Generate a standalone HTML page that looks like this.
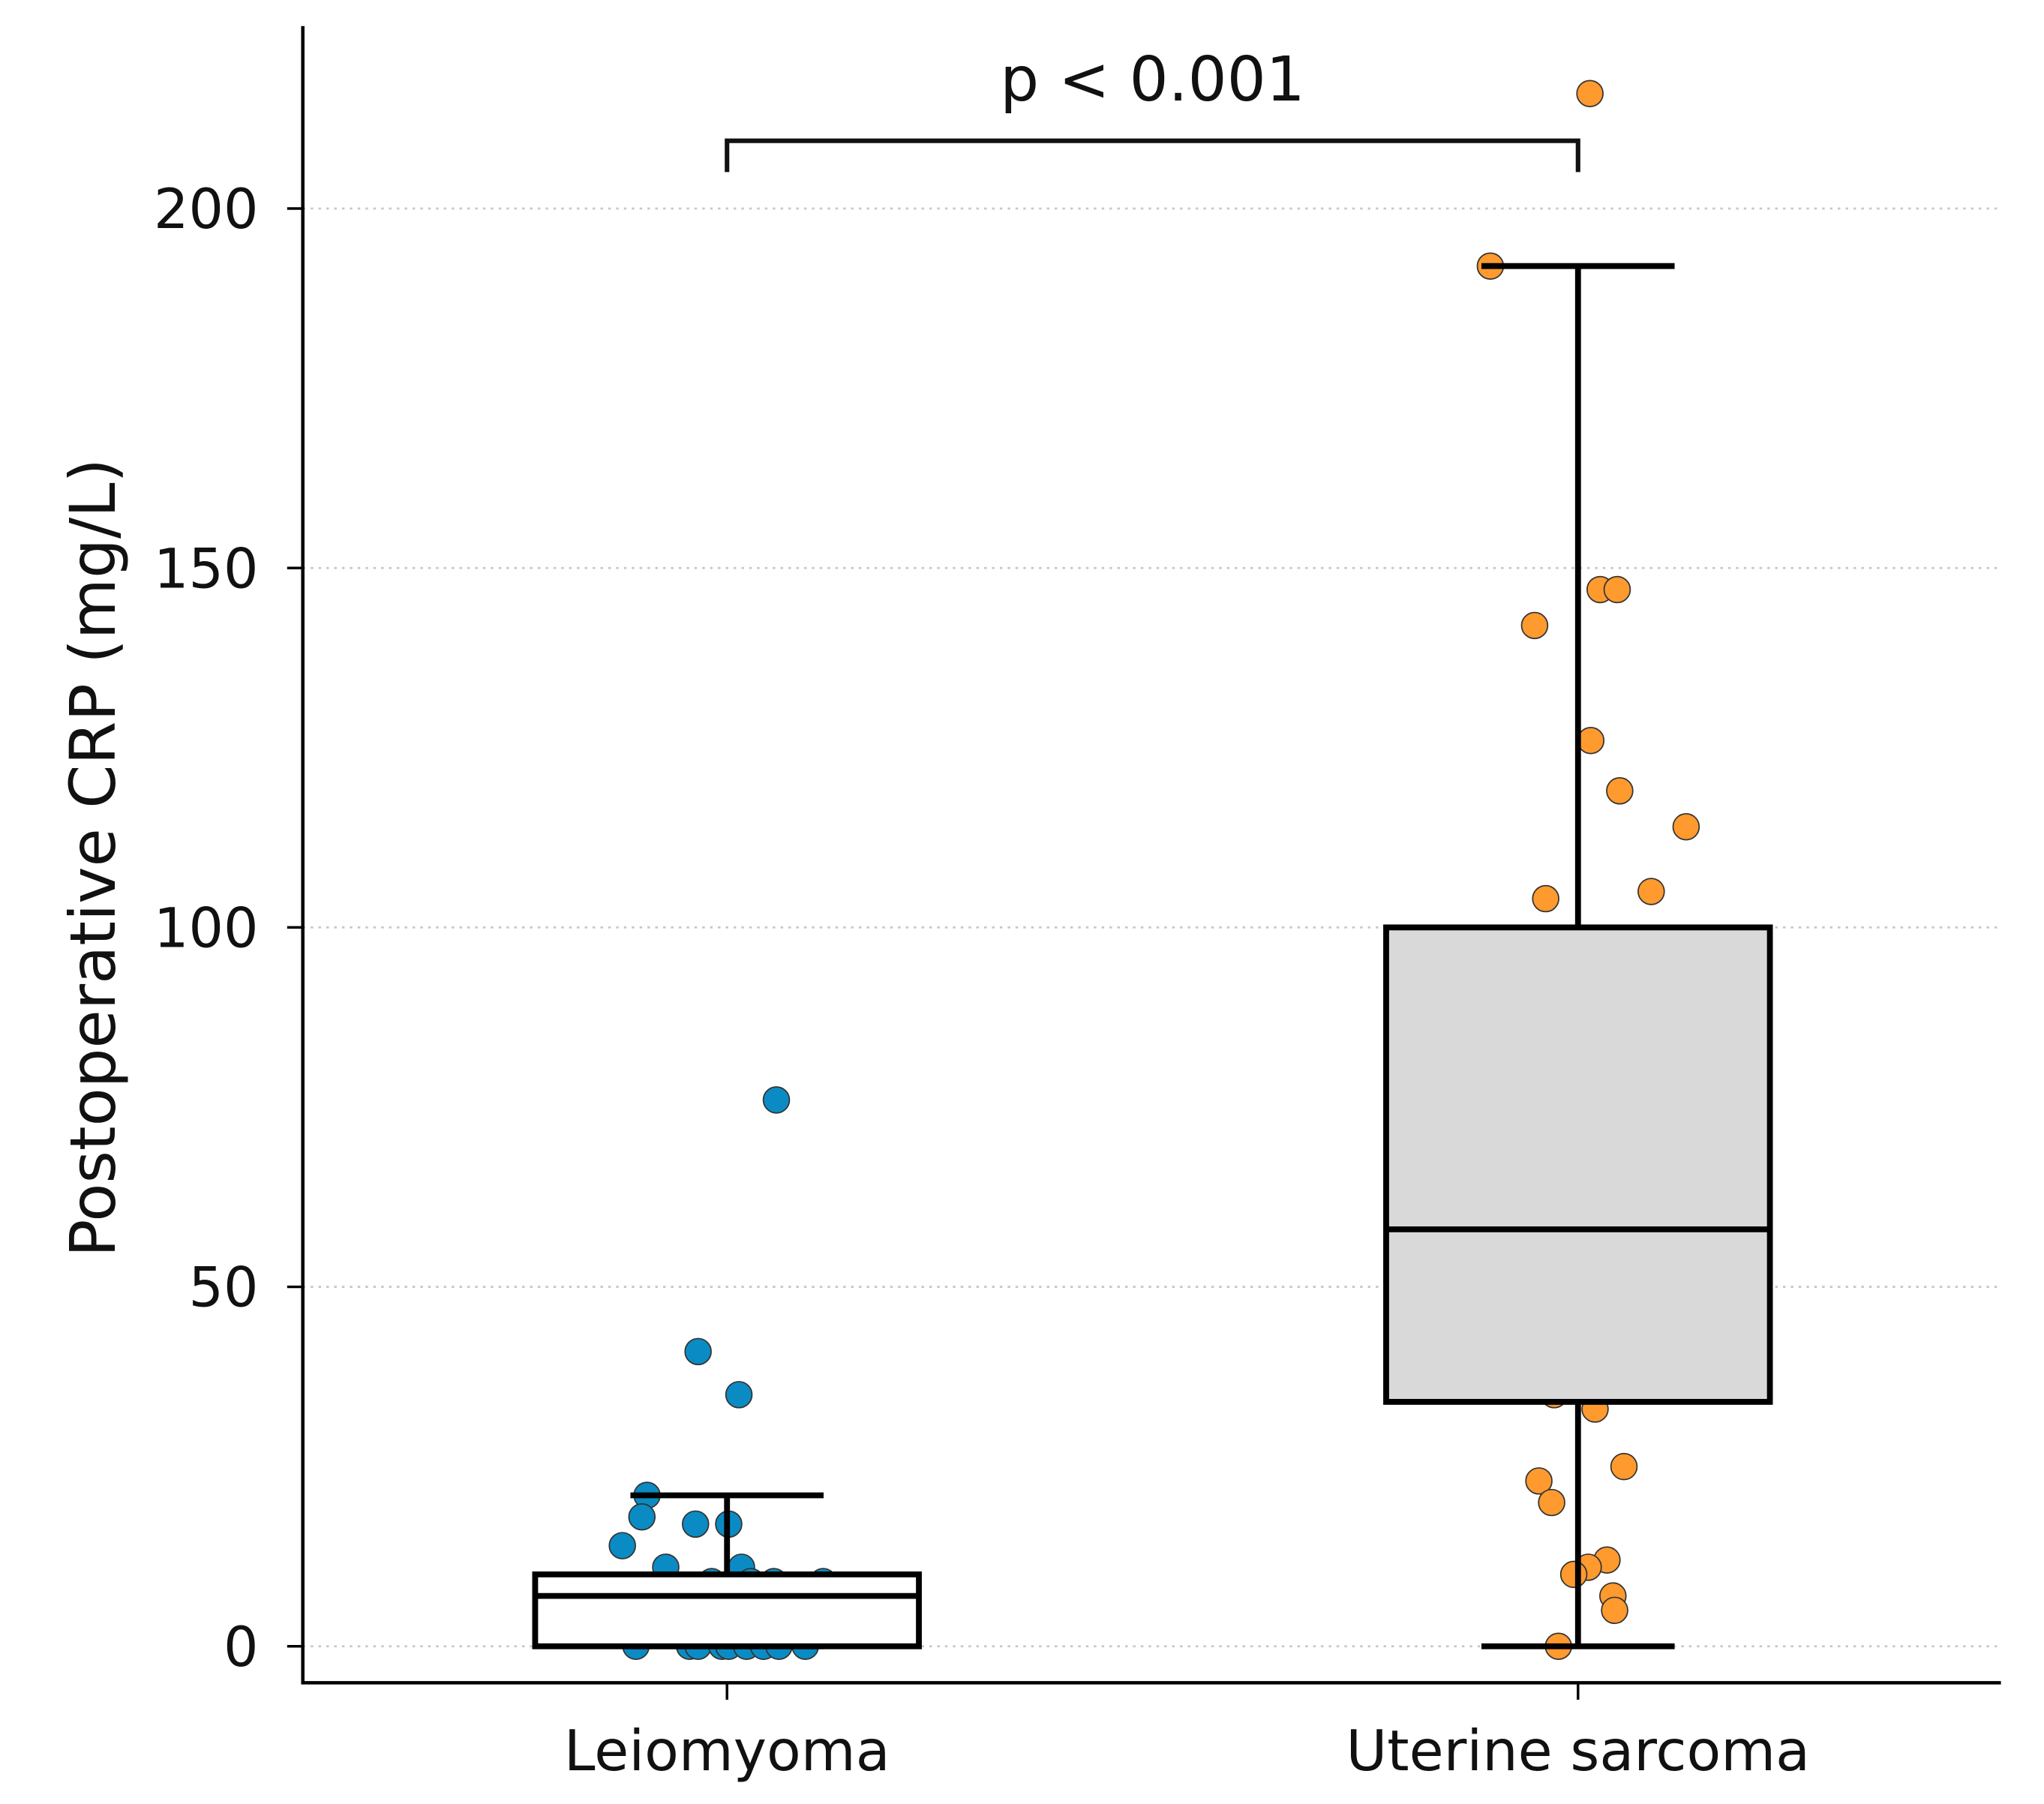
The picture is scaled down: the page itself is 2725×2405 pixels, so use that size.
<!DOCTYPE html>
<html><head><meta charset="utf-8"><style>html,body{margin:0;padding:0;background:#fff}svg{display:block}</style></head>
<body>
<svg id="chart" width="2725" height="2405" viewBox="0 0 1566 1384" preserveAspectRatio="none" xmlns="http://www.w3.org/2000/svg" font-family="'DejaVu Sans','Liberation Sans',sans-serif">
<g id="grid"></g><g id="pts"></g><g id="boxes"></g><g id="axes"></g>
</svg>
<script>
const categories = ["Leiomyoma", "Uterine sarcoma"];
const yTicks = [0, 50, 100, 150, 200];
const boxQ1 = [0, 34];
const boxMedian = [7, 58];
const boxQ3 = [10, 100];
const whiskerLow = [0, 0];
const whiskerHigh = [21, 192];
const leioValues = [76,41,35,21,18,17,17,14,11,11,9,9,9,9,0,0,0,0,0,0,0,0,0];
const leioJitter = [0.058,-0.034,0.014,-0.094,-0.100,-0.037,0.002,-0.123,-0.072,0.017,-0.018,0.055,0.113,0.028,-0.107,-0.044,-0.034,-0.006,0.002,0.023,0.043,0.061,0.092];
const sarcValues = [216,192,147,147,142,126,119,114,105,104,35,33,25,23,20,12,11,10,7,5,0];
const sarcJitter = [0.014,-0.103,0.026,0.046,-0.051,0.015,0.049,0.127,0.086,-0.038,-0.028,0.020,0.054,-0.046,-0.031,0.034,0.012,-0.005,0.041,0.043,-0.023];
const pLabel = "p < 0.001";

const NS="http://www.w3.org/2000/svg";
const L=232,R=1533,B=1291,T=20;
const catX=[557,1209], band=652;
const y=v=>1263-v*5.515;
const x=(i,off)=>catX[i]+(off||0)*band;
function mk(parent,tag,attrs){const e=document.createElementNS(NS,tag);for(const k in attrs)e.setAttribute(k,attrs[k]);document.getElementById(parent).appendChild(e);return e;}

yTicks.forEach(t=>{
  const g=mk('grid','line',{x1:L,x2:R,y1:y(t),y2:y(t),stroke:'#c8c8c8','stroke-width':1.6,'stroke-dasharray':'2,4'});
  
  
  const tk=mk('axes','line',{x1:L-12,x2:L,y1:y(t),y2:y(t),stroke:'#000','stroke-width':2});
  
  
  const tx=mk('axes','text',{x:L-34,y:y(t)+15,'text-anchor':'end','font-size':42,fill:'#111'});
  tx.textContent=t;
  
  
});

function pts(vals,jit,i,col,name){
  vals.forEach((v,k)=>{
    const c=mk('pts','circle',{cx:x(i,jit[k]),cy:y(v),r:10,fill:col,stroke:'#333','stroke-width':1});
    
    
  });
}
pts(leioValues,leioJitter,0,'#0b8bc3','leiomyoma');
pts(sarcValues,sarcJitter,1,'#ff9a2e','sarcoma');

const fills=['#ffffff','#d9d9d9'];
categories.forEach((c,i)=>{
  const cx=x(i),hw=147,cw=74,sw=4.5;
  const w1=mk('boxes','line',{x1:cx,x2:cx,y1:y(boxQ3[i]),y2:y(whiskerHigh[i]),stroke:'#000','stroke-width':sw});
  
  
  const w2=mk('boxes','line',{x1:cx,x2:cx,y1:y(boxQ1[i]),y2:y(whiskerLow[i]),stroke:'#000','stroke-width':sw});
  
  
  [whiskerHigh[i],whiskerLow[i]].forEach((v,j)=>{
    const cp=mk('boxes','line',{x1:cx-cw,x2:cx+cw,y1:y(v),y2:y(v),stroke:'#000','stroke-width':sw});
    
    
  });
  const bx=mk('boxes','rect',{x:cx-hw,width:2*hw,y:y(boxQ3[i]),height:y(boxQ1[i])-y(boxQ3[i]),fill:fills[i],stroke:'#000','stroke-width':sw});
  
  
  const md=mk('boxes','line',{x1:cx-hw,x2:cx+hw,y1:y(boxMedian[i]),y2:y(boxMedian[i]),stroke:'#000','stroke-width':sw});
  
  
  const xt=mk('axes','line',{x1:cx,x2:cx,y1:B,y2:B+13,stroke:'#000','stroke-width':2});
  
  
  const xl=mk('axes','text',{x:cx,y:B+67,'text-anchor':'middle','font-size':43,fill:'#111'});
  xl.textContent=c;
  
  
});

const ax=mk('axes','path',{d:`M${L},${T} V${B} H${R}`,fill:'none',stroke:'#000','stroke-width':2.6});


const yl=mk('axes','text',{x:0,y:0,transform:`translate(88,658) rotate(-90)`,'text-anchor':'middle','font-size':48,fill:'#111'});
yl.textContent='Postoperative CRP (mg/L)';


const br=mk('axes','path',{d:`M${catX[0]},132 V108 H${catX[1]} V132`,fill:'none',stroke:'#111','stroke-width':3.5});


const pl=mk('axes','text',{x:(catX[0]+catX[1])/2,y:77,'text-anchor':'middle','font-size':47,fill:'#111'});
pl.textContent=pLabel;


</script>
</body></html>
